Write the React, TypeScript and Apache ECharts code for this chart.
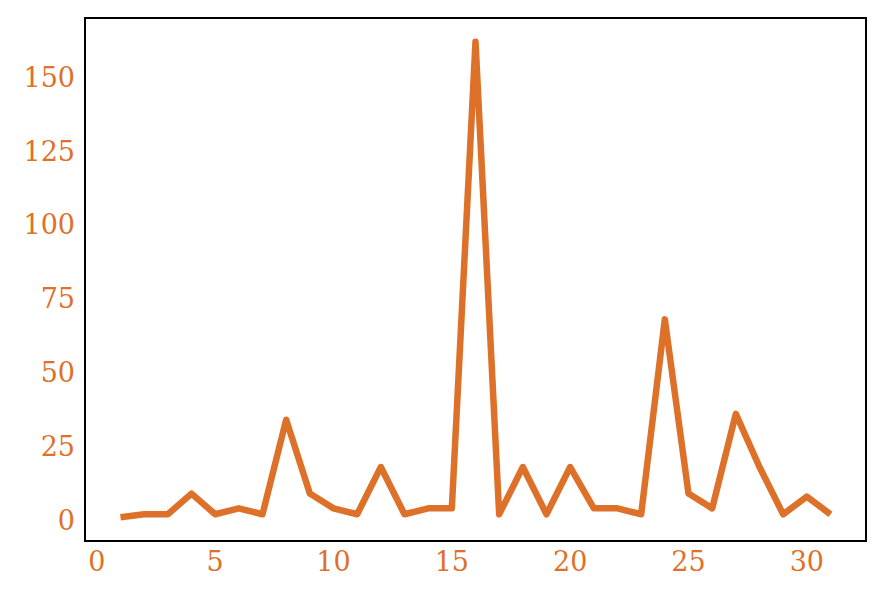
import React, { useEffect, useRef } from "react";
import * as echarts from "echarts";

const xValues = [1, 2, 3, 4, 5, 6, 7, 8, 9, 10, 11, 12, 13, 14, 15, 16, 17, 18, 19, 20, 21, 22, 23, 24, 25, 26, 27, 28, 29, 30, 31];
const yValues = [1, 2, 2, 9, 2, 4, 2, 34, 9, 4, 2, 18, 2, 4, 4, 162, 2, 18, 2, 18, 4, 4, 2, 68, 9, 4, 36, 18, 2, 8, 2];
const xTicks = [0, 5, 10, 15, 20, 25, 30];
const yTicks = [0, 25, 50, 75, 100, 125, 150];

const COLOR = "#de7129";

export default function App() {
  const ref = useRef<HTMLDivElement>(null);
  useEffect(() => {
    if (!ref.current) return;
    const chart = echarts.init(ref.current, undefined, { renderer: "svg" });
    const data = xValues.map((x, i) => [x, yValues[i]]);
    chart.setOption({
      animation: false,
      grid: {
        left: 85,
        right: 20,
        top: 18,
        bottom: 57,
        show: true,
        borderColor: "#000",
        borderWidth: 2,
        backgroundColor: "transparent",
      },
      xAxis: {
        type: "value",
        min: -0.5,
        max: 32.5,
        axisLine: { show: false },
        axisTick: { show: false },
        splitLine: { show: false },
        axisLabel: {
          customValues: xTicks,
          color: COLOR,
          fontFamily: "DejaVu Serif",
          fontSize: 27,
          margin: 7,
        },
      },
      yAxis: {
        type: "value",
        min: -7.05,
        max: 170.05,
        axisLine: { show: false },
        axisTick: { show: false },
        splitLine: { show: false },
        axisLabel: {
          customValues: yTicks,
          color: COLOR,
          fontFamily: "DejaVu Serif",
          fontSize: 27,
          margin: 10,
        },
      },
      series: [
        {
          type: "line",
          data,
          showSymbol: false,
          symbol: "none",
          lineStyle: { color: COLOR, width: 6.5, join: "round", cap: "butt" },
          clip: false,
        },
      ],
    });
    return () => chart.dispose();
  }, []);
  return (
    <div
      ref={ref}
      style={{ position: "fixed", left: 0, top: 0, width: 886, height: 598, background: "#fff" }}
    />
  );
}
